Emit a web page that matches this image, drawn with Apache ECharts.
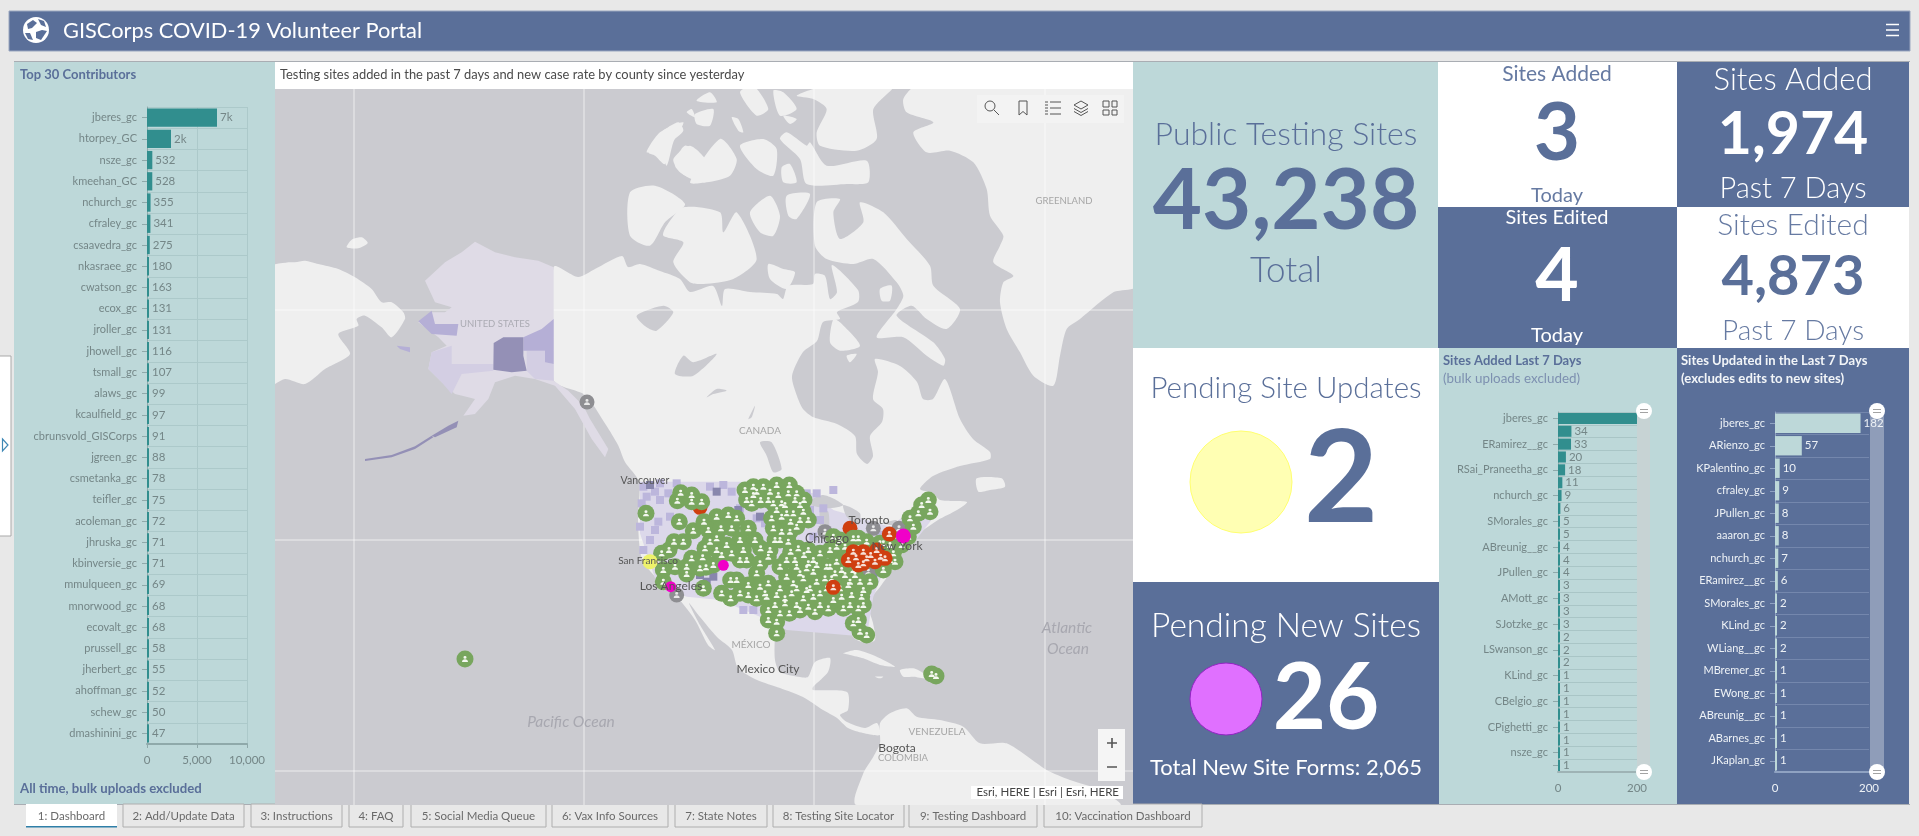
<!DOCTYPE html>
<html>
<head>
<meta charset="utf-8">
<title>GISCorps COVID-19 Volunteer Portal</title>
<script src="https://cdn.jsdelivr.net/npm/echarts@6/dist/echarts.min.js"></script>
<style>
  html, body { margin: 0; padding: 0; background: #e8e8e8; overflow: hidden; }
  #main { width: 1919px; height: 836px; }
</style>
</head>
<body>
<div id="main"></div>
<script>
// ---- chart data ----
var contributorNames = ['jberes_gc', 'htorpey_GC', 'nsze_gc', 'kmeehan_GC', 'nchurch_gc', 'cfraley_gc', 'csaavedra_gc', 'nkasraee_gc', 'cwatson_gc', 'ecox_gc', 'jroller_gc', 'jhowell_gc', 'tsmall_gc', 'alaws_gc', 'kcaulfield_gc', 'cbrunsvold_GISCorps', 'jgreen_gc', 'csmetanka_gc', 'teifler_gc', 'acoleman_gc', 'jhruska_gc', 'kbinversie_gc', 'mmulqueen_gc', 'mnorwood_gc', 'ecovalt_gc', 'prussell_gc', 'jherbert_gc', 'ahoffman_gc', 'schew_gc', 'dmashinini_gc'];
var contributorCounts = [7000, 2400, 532, 528, 355, 341, 275, 180, 163, 131, 131, 116, 107, 99, 97, 91, 88, 78, 75, 72, 71, 71, 69, 68, 68, 58, 55, 52, 50, 47];

// every other name on this axis is not printed in the picture
var addedNames = ['jberes_gc', '', 'ERamirez__gc', '', 'RSai_Praneetha_gc', '', 'nchurch_gc', '', 'SMorales_gc', '', 'ABreunig__gc', '', 'JPullen_gc', '', 'AMott_gc', '', 'SJotzke_gc', '', 'LSwanson_gc', '', 'KLind_gc', '', 'CBelgio_gc', '', 'CPighetti_gc', '', 'nsze_gc', ''];
var addedCounts = [1795, 34, 33, 20, 18, 11, 9, 6, 5, 5, 4, 4, 4, 3, 3, 3, 3, 2, 2, 2, 1, 1, 1, 1, 1, 1, 1, 1];

var updatedNames = ['jberes_gc', 'ARienzo_gc', 'KPalentino_gc', 'cfraley_gc', 'JPullen_gc', 'aaaron_gc', 'nchurch_gc', 'ERamirez__gc', 'SMorales_gc', 'KLind_gc', 'WLiang__gc', 'MBremer_gc', 'EWong_gc', 'ABreunig__gc', 'ABarnes_gc', 'JKaplan_gc'];
var updatedCounts = [182, 57, 10, 9, 8, 8, 7, 6, 2, 2, 2, 1, 1, 1, 1, 1];

var tabNames = ['1: Dashboard', '2: Add/Update Data', '3: Instructions', '4: FAQ', '5: Social Media Queue', '6: Vax Info Sources', '7: State Notes', '8: Testing Site Locator', '9: Testing Dashboard', '10: Vaccination Dashboard'];
var tabEdges = [[26, 117], [123, 244], [251, 342], [349, 403], [411, 546], [552, 668], [675, 767], [773, 904], [909, 1037], [1044, 1202]];

// map symbols, in map units (3 units = 1 screen pixel)
var greenSites = [
  [435,120],[460,110],[490,110],[530,105],[568,105],[440,150],[482,150],[510,125],[535,135],[565,130],[590,130],[612,150],[455,160],[520,160],[555,165],[600,165],[580,190],[515,205],[545,200],[600,210],[625,210],[572,215],[545,245],[590,230],
  [242,128],[232,152],[275,135],[275,155],[305,155],[138,190],
  [238,215],[280,242],[312,215],[350,200],[385,195],[410,205],[325,240],[363,235],[395,235],[445,235],[350,265],[420,270],[465,270],[380,285],[315,295],[482,295],[430,300],[505,320],[540,270],[222,275],[250,275],[185,310],[207,300],[308,322],[365,315],[420,330],[440,330],[340,345],[275,325],[318,352],[260,372],[190,360],[260,350],
  [540,350],[572,305],[595,295],[612,315],[650,345],[590,350],[640,365],[610,385],[580,400],[540,415],[505,400],[470,370],[445,405],[410,390],[392,390],[365,430],[392,445],[420,430],[445,435],[470,445],[495,430],[530,435],[575,430],[610,445],[640,440],[525,465],[505,480],[540,490],[505,510],[530,515],[568,490],[600,480],[645,485],[685,475],[730,475],[695,385],[735,375],[765,375],[720,415],[755,435],[725,440],[785,440],[810,395],[780,395],[775,475],[775,510],[760,520],[800,555],[780,545],[530,550],
  [710,290],[700,260],[735,290],[710,335],[775,265],[815,330],[850,360],[870,330],[815,305],[630,415],[680,415],[660,310],[690,350],[620,355],[560,380],[480,340],
  [985,150],[955,190],[990,185],[940,230],[905,285],[885,335],[870,285],[760,265],
  [310,415],[190,395],[-405,627],[1008,678],[995,672],
  [460,135],[505,150],[585,150],[470,125],[545,160],[530,180],[560,190],[610,185],[520,235],[570,245],[525,270],[565,275],
  [560,330],[585,330],[625,340],[600,370],[650,395],[675,385],[660,430],[700,450],[660,465],[625,470],[590,465],[555,460],[480,410],[500,440],[555,445],[620,420],[590,415],[705,370],[680,350],[745,405],[790,420],[750,465],[790,465],[750,395],
  [720,270],[690,300],[735,320],[725,360],[760,360],[640,330],[625,300],[510,300],[350,300],[395,310],[330,275],[300,355],[225,350],
  [880,310],[930,205],[965,165],[925,260],[840,280],[775,295],[800,275],[850,280]
];
var redSitesUnder = [[300,172],[750,235]];
var redSites = [[768,322],[790,340],[790,305],[812,315],[842,320],[868,252],[700,412],[760,305],[775,345],[830,300],[745,330],[855,325],[800,325],[825,335]];
var greySites = [[675,245],[820,235],[805,365],[230,435],[897,235],[-39,-144]];
var magentaSites = [[370,346],[212,410]];
var magentaLargeSites = [[910,258]];
var yellowSites = [[150,335]];
var lightCounties = [[130,110],[180,100],[230,100],[120,230],[150,270],[460,480],[430,480],[370,105],[420,175],[650,130],[700,120],[660,210],[630,180],[175,215],[210,200],[840,255],[530,350],[180,150],[140,140],[125,160],[165,125],[205,130],[330,110],[395,125],[620,130],[670,175],[130,300],[165,240],[495,220],[470,205],[640,260]];
var darkCounties = [[300,375],[340,380],[320,345],[480,200],[350,125],[820,370],[415,180],[320,395],[150,105]];

// KPI tiles
var publicSitesTotal = '43,238';
var sitesAddedToday = '3';
var sitesAdded7Days = '1,974';
var sitesEditedToday = '4';
var sitesEdited7Days = '4,873';
var pendingUpdates = '2';
var pendingNew = '26';
var totalForms = '2,065';

function shift(list, dx, dy) {
  return list.map(function (p) { return [p[0] + dx, p[1] + dy]; });
}
function fromPage(list) {
  return list.map(function (p) { return [(p[0] - 600) * 3, (p[1] - 450) * 3]; });
}
function crop9(list) { return shift(list, -975, -1083); }
function crop10(list) { return shift(list, 120, -1083); }
function crop11(list) { return shift(list, 300, 90); }

var northAmerica = fromPage([
  [553.7,267],[578,277],[595,269],[622,256],[628,267],[640,264],[660,271],[680,279],[690,292],[713,286],[722,306],[725,289],[750,292],[777,294],[783,299],[788,286],[813,284],[815,274],[825,276],[830,299],[837,292],[832,265],[858,290],[858,302],[837,312],[840,319],[823,322],[817,341],[803,352],[792,376],[797,396],[803,409],[813,417],[837,424],[855,436],[857,454],[867,464],[873,456],[870,436],[882,422],[883,409],[873,399],[878,372],[875,359],[900,366],[917,382],[923,399],[933,399],[945,379],[960,419],[973,439],[990,452],[990,459],[960,466],[933,476],[920,489],
  [933,493],[940,500],[967,502],[957,510],[938,520],[917,535],[908,545],[897,563],[880,587],[868,603],[873,623],[875,640],[865,643],[853,637],[845,613],[827,613],[810,617],[795,612],[778,623],[775,637],[775,660],[780,672],[800,677],[808,677],[815,662],[830,658],[828,672],[813,687],[813,690],[847,692],[848,710],[840,715],[847,722],[865,728],[877,723],[880,735],[863,733],[848,728],[837,718],[823,710],[803,697],[780,688],[757,680],[738,668],[732,650],[717,637],[700,617],[689,603],[700,625],[715,650],[708,645],[695,620],[678,598],[661,583],[642,559],[638,520],[639,482],[625,462],[618,445],[606,425],[585,395],[553.7,380]
]);
var landMasses = [northAmerica].concat([
  // Siberia and Wrangel
  crop9([[-30,540],[40,520],[60,520],[90,515],[130,525],[190,540],[240,565],[290,600],[320,640],[350,640],[385,670],[390,690],[350,745],[320,715],[270,680],[245,690],[250,710],[190,735],[225,795],[150,840],[90,885],[30,870],[-30,895]]),
  crop9([[215,475],[230,452],[260,445],[278,462],[250,478]]),
  // arctic islands
  crop9([[1120,190],[1160,130],[1210,100],[1225,125],[1190,160],[1170,225],[1140,200]]),
  crop9([[1200,230],[1230,170],[1290,210],[1290,260],[1250,270]]),
  crop9([[1235,70],[1250,60],[1260,85]]),
  crop10([[-30,310],[45,290],[135,345],[75,400],[30,470],[-30,440]]),
  crop10([[80,410],[130,355],[240,370],[250,430],[290,370],[350,510],[280,570],[190,585],[150,580],[100,520],[130,460],[70,440]]),
  crop10([[20,190],[60,130],[130,100],[100,160],[80,230],[60,180]]),
  crop10([[100,210],[150,170],[200,220],[155,265],[120,250]]),
  crop10([[150,280],[240,150],[290,210],[270,260],[200,280]]),
  crop10([[300,170],[370,150],[410,180],[400,260],[350,240]]),
  crop10([[165,75],[220,60],[210,110],[170,105]]),
  crop10([[170,35],[210,10],[230,40]]),
  crop10([[300,10],[340,-10],[385,60],[350,80]]),
  crop10([[400,5],[430,10],[470,60],[420,80]]),
  crop10([[430,80],[470,90],[450,105]]),
  crop10([[275,85],[295,90],[310,130],[295,125]]),
  crop10([[420,150],[440,130],[500,170],[510,160],[560,230],[680,215],[685,280],[620,285],[500,285],[480,210]]),
  crop10([[470,20],[560,-10],[760,-10],[700,60],[710,150],[650,185],[540,170],[530,130],[560,60],[520,30]]),
  crop10([[440,320],[510,315],[470,390],[445,380]]),
  crop10([[330,370],[390,320],[420,380],[400,440],[360,430]]),
  crop10([[425,235],[450,225],[470,280],[430,280]]),
  crop10([[385,525],[430,540],[465,550],[440,600],[390,570]]),
  crop10([[530,340],[600,330],[580,370],[600,450],[670,400],[660,340],[730,370],[800,450],[870,530],[880,590],[960,660],[920,720],[860,690],[815,650],[770,680],[880,760],[915,810],[910,830],[860,800],[790,745],[710,745],[770,660],[790,620],[770,580],[700,510],[640,525],[560,510],[525,470]]),
  crop10([[580,690],[600,700],[660,770],[600,785],[570,760]]),
  crop10([[620,800],[650,795],[630,820]]),
  crop10([[720,600],[755,590],[750,635],[725,635]]),
  // Greenland
  crop10([[790,30],[830,-10],[1490,-10],[1490,590],[1420,610],[1320,690],[1280,720],[1260,800],[1240,890],[1180,860],[1140,790],[1100,720],[1080,640],[1090,580],[1120,560],[1060,520],[1080,470],[1090,440],[1050,380],[1040,300],[1000,220],[930,185],[860,190],[820,130],[880,100],[800,70]]),
  // Caribbean, South America, Newfoundland
  crop11([[430,520],[470,510],[530,530],[585,560],[540,555],[490,535],[450,525]]),
  crop11([[600,570],[640,565],[670,580],[680,595],[640,590],[610,590]]),
  crop11([[525,590],[550,590],[540,595]]),
  crop11([[540,730],[570,700],[620,685],[650,710],[720,720],[790,740],[840,790],[920,790],[1040,870],[1110,900],[1200,930],[1260,975],[470,975],[490,880],[520,830],[540,790]]),
  crop11([[830,-5],[905,-5],[915,20],[870,30],[835,35]])
]);
var lakes = [
  crop10([[-10,680],[70,650],[100,670],[50,725],[20,715]]),
  crop10([[105,855],[130,800],[160,820],[230,795],[160,860]]),
  crop10([[200,925],[230,900],[260,905],[220,915]]),
  crop10([[325,990],[345,950],[335,985]]),
  crop10([[360,1060],[395,1060],[425,1140],[400,1150],[380,1100]])
];
var greatLakes = [
  crop11([[320,70],[370,45],[430,75],[380,85]]),
  crop11([[360,90],[385,95],[385,165],[365,165]]),
  crop11([[430,75],[480,100],[475,135],[440,110]]),
  crop11([[545,130],[590,120],[580,135]])
];
var alaskaOutline = [crop9([[600,458],[660,490],[720,505],[790,515],[836,535],[836,875],[880,905],[925,950],[945,990],[1000,1080],[990,1105],[950,1050],[900,960],[840,890],[780,870],[720,860],[660,880],[640,930],[600,975],[565,980],[600,930],[580,925],[540,915],[500,880],[460,840],[470,790],[515,770],[490,745],[430,700],[470,670],[510,670],[530,655],[480,640],[450,575],[510,520],[560,490]])];
var alaskaLight = [
  crop9([[470,790],[530,770],[530,825],[655,825],[655,845],[560,855],[530,915],[500,880],[460,840]]),
  crop9([[755,785],[810,785],[810,820],[836,825],[836,875],[780,870],[755,845]])
];
var alaskaMedium = [
  crop9([[745,745],[800,720],[836,690],[836,825],[810,820],[810,785],[745,785]]),
  crop9([[430,697],[470,665],[480,705],[550,705],[545,740],[470,735]]),
  crop9([[365,770],[405,775],[405,790],[375,780]])
];
var alaskaDark = [
  crop9([[656,762],[685,745],[745,745],[745,800],[755,845],[710,850],[655,842]]),
  crop9([[470,1040],[520,1010],[550,995],[545,1015],[480,1045]]),
  crop9([[270,1110],[350,1098],[420,1072],[470,1040],[475,1045],[420,1080],[350,1105],[270,1116]])
];
var lower48 = [[120,95],[420,95],[640,130],[700,180],[870,230],[1000,130],[1010,190],[940,280],[860,340],[820,440],[800,560],[560,540],[480,500],[360,450],[260,440],[170,400],[120,250]];
var graticule = [
  fromPage([[354,89],[354,805]]), fromPage([[584,89],[584,805]]), fromPage([[814,89],[814,805]]), fromPage([[1045,89],[1045,805]]),
  fromPage([[275,310],[1133,310]]), fromPage([[275,540],[1133,540]]), fromPage([[275,771],[1133,771]])
];

// ---- colours ----
var navy = '#5a6f99';
var teal = '#bdd8d9';
var barTeal = '#318e8e';
var tickGrey = '#748687';
var softNavy = '#667aa2';
var fontName = 'Lato, "Open Sans", sans-serif';
var personIcon = 'path://M12 2a4.6 4.6 0 1 1 0 9.2a4.6 4.6 0 1 1 0-9.2zM3 22c0-6 4-9 9-9s9 3 9 9z';

// ---- page furniture ----
var els = [];
var shapeCount = 0;
// the graphic component has no plain path type, so each icon path is registered as a shape
function iconShape(d) {
  var name = 'icon' + (shapeCount++);
  echarts.graphic.registerShape(name, echarts.graphic.extendPath(d, {}));
  return name;
}
function box(x, y, w, h, fill, stroke, z) {
  els.push({ type: 'rect', silent: true, z: z === undefined ? -1 : z, shape: { x: x, y: y, width: w, height: h }, style: { fill: fill, stroke: stroke || null, lineWidth: 1 } });
}
function txt(x, y, s, size, color, weight, align, italic) {
  els.push({ type: 'text', silent: true, z: 100, x: x, y: y, style: { text: s, fill: color, font: (italic ? 'italic ' : '') + (weight || 400) + ' ' + size + 'px ' + fontName, textAlign: align || 'center', textVerticalAlign: 'middle' } });
}
function dot(x, y, r, fill, stroke, z) {
  els.push({ type: 'circle', silent: true, z: z === undefined ? 100 : z, shape: { cx: x, cy: y, r: r }, style: { fill: fill, stroke: stroke || null, lineWidth: 1 } });
}
function stroke(d, color, w, z) {
  els.push({ type: iconShape(d), silent: true, z: z || 100, style: { fill: null, stroke: color, lineWidth: w || 1 } });
}
function solid(d, color) {
  els.push({ type: iconShape(d), silent: true, z: 100, style: { fill: color, stroke: null } });
}

// header
box(9, 11, 1901, 40, navy, '#9aa7bf');
dot(36, 30, 13, '#ffffff', null);
solid('M27 24 L33 20 L37 23 L32 28 L28 29 Z', navy);
solid('M38 19 L44 21 L46 27 L41 25 Z', navy);
solid('M36 32 L42 30 L47 31 L41 40 L36 38 Z', navy);
solid('M25 33 L30 33 L33 40 L28 39 Z', navy);
txt(63, 31, 'GISCorps COVID-19 Volunteer Portal', 21.8, '#ffffff', 400, 'left');
stroke('M1886 24.5 H1899 M1886 30 H1899 M1886 35.5 H1899', '#ffffff', 1.6);

// side collapse tab
box(-1, 356, 12, 180, '#ffffff', '#a9a9a9');
stroke('M2.5 439 L8 445 L2.5 451 Z', '#3f88b5', 1.2);

// panels
box(14, 61, 1896, 1, '#a9adb3');
box(14, 62, 261, 742, teal);
box(275, 62, 858, 27, '#ffffff');
box(1133, 62, 305, 286, teal);
box(1438, 62, 239, 145, '#ffffff');
box(1677, 62, 232, 145, navy);
box(1438, 207, 239, 141, navy);
box(1677, 207, 232, 141, '#ffffff');
box(1133, 348, 306, 234, '#ffffff');
box(1133, 582, 306, 222, navy);
box(1439, 348, 238, 456, teal);
box(1677, 348, 232, 456, navy);
box(14, 804, 1896, 1, '#a9adb3');

// tabs
tabNames.forEach(function (name, i) {
  var e = tabEdges[i];
  var active = i === 0;
  box(e[0], 804, e[1] - e[0], 23, active ? '#ffffff' : '#e8e8e8', active ? null : '#aeaeae');
  txt((e[0] + e[1]) / 2, 816, name, 11.5, '#6a6a6a');
  if (active) box(e[0], 826, e[1] - e[0], 1.5, '#2f7fa8');
});

// panel titles
txt(20, 75, 'Top 30 Contributors', 13, navy, 700, 'left');
txt(20, 789, 'All time, bulk uploads excluded', 13.2, navy, 700, 'left');
txt(280, 75, 'Testing sites added in the past 7 days and new case rate by county since yesterday', 12.9, '#4a4a4a', 400, 'left');
txt(1443, 361, 'Sites Added Last 7 Days', 13, navy, 700, 'left');
txt(1443, 379, '(bulk uploads excluded)', 13.4, '#7d90b0', 400, 'left');
txt(1681, 361, 'Sites Updated in the Last 7 Days', 13, '#f2f5f8', 700, 'left');
txt(1681, 379, '(excludes edits to new sites)', 13.2, '#f2f5f8', 700, 'left');

// KPI tiles
txt(1286, 135, 'Public Testing Sites', 32, navy, 300);
txt(1286, 202, publicSitesTotal, 85, navy, 700);
txt(1286, 271, 'Total', 35, navy, 300);

txt(1557, 74, 'Sites Added', 21, softNavy, 400);
txt(1557, 134, sitesAddedToday, 80, navy, 700);
txt(1557, 196, 'Today', 20, softNavy, 400);

txt(1793, 80, 'Sites Added', 31, '#ffffff', 300);
txt(1793, 135, sitesAdded7Days, 59, '#ffffff', 700);
txt(1793, 189, 'Past 7 Days', 29, '#ffffff', 300);

txt(1557, 218, 'Sites Edited', 20, '#ffffff', 400);
txt(1557, 277, sitesEditedToday, 75, '#ffffff', 700);
txt(1557, 336, 'Today', 20, '#ffffff', 400);

txt(1793, 225, 'Sites Edited', 30, softNavy, 300);
txt(1793, 277, sitesEdited7Days, 56, navy, 700);
txt(1793, 331, 'Past 7 Days', 28, softNavy, 300);

txt(1286, 388, 'Pending Site Updates', 29.5, navy, 300);
dot(1241, 482, 51, '#ffffb3', '#ffff70');
txt(1341, 481, pendingUpdates, 128, navy, 700);

txt(1286, 626, 'Pending New Sites', 33.5, '#ffffff', 300);
dot(1226, 699, 36, '#e070ff', '#9424c4');
txt(1326, 699, pendingNew, 92, '#ffffff', 700);
txt(1286, 768, 'Total New Site Forms: ' + totalForms, 22, '#ffffff', 400);

// scrollbars next to the two small bar charts
function scrollbar(x, w, cx, fill) {
  box(x, 412, w, 360, fill, null, -0.5);
  [411, 772].forEach(function (y) {
    dot(cx, y, 8, '#ffffff', null);
    stroke('M' + (cx - 4) + ' ' + (y - 1.5) + ' H' + (cx + 4) + ' M' + (cx - 4) + ' ' + (y + 1.5) + ' H' + (cx + 4), '#a3a3a3', 1, 101);
  });
}
scrollbar(1637, 13, 1644, '#c7d3d4');
scrollbar(1870, 14, 1877, '#8f9db9');

// map text
txt(495, 324, 'UNITED STATES', 9.5, '#ababb3');
txt(760, 431, 'CANADA', 10, '#a6a6a6');
txt(1064, 201, 'GREENLAND', 9.5, '#a6a6a6');
txt(751, 645, 'MÉXICO', 10, '#a6a6a6');
txt(768, 669, 'Mexico City', 12, '#555555');
txt(937, 732, 'VENEZUELA', 10, '#a6a6a6');
txt(897, 748, 'Bogota', 12, '#555555');
txt(903, 758, 'COLOMBIA', 9.5, '#a6a6a6');
txt(1067, 628, 'Atlantic', 15.5, '#a8a8b0', 400, 'center', true);
txt(1068, 649, 'Ocean', 15.5, '#a8a8b0', 400, 'center', true);
txt(571, 722, 'Pacific Ocean', 15.5, '#a8a8b0', 400, 'center', true);
txt(645, 481, 'Vancouver', 10.5, '#555555');
txt(648, 561, 'San Francisco', 10, '#555555');
txt(671, 586, 'Los Angeles', 12, '#555555');
txt(827, 539, 'Chicago', 12.5, '#555555');
txt(869, 520, 'Toronto', 12, '#555555');
txt(897, 546, 'New York', 12, '#555555');

// map toolbar
box(977, 95, 147, 28, '#f3f3f3', null, 100);
[
  'M995 106 A5 5 0 1 1 985 106 A5 5 0 1 1 995 106 Z M994 110 L999 115',
  'M1019 101 H1027 V115 L1023 111.5 L1019 115 Z',
  'M1050 102 H1061 M1050 108 H1061 M1050 114 H1061 M1045 102 H1048 M1045 105 H1048 M1045 108 H1048 M1045 111 H1048 M1045 114 H1048',
  'M1081 101 L1088 105 L1081 109 L1074 105 Z M1074 108.5 L1081 112.5 L1088 108.5 M1074 111.5 L1081 115.5 L1088 111.5',
  'M1103 101 H1109 V107 H1103 Z M1112 101 H1117 V107 H1112 Z M1103 110 H1109 V115 H1103 Z M1112 110 H1117 V115 H1112 Z'
].forEach(function (d) {
  stroke(d, '#555555', 1, 101);
});

// zoom buttons and attribution
box(1098, 729, 27, 52, '#f5f5f5', null, 100);
stroke('M1107 743 H1117 M1112 738 V748 M1107 767 H1117', '#555555', 1.6, 101);
box(971, 786, 152, 13, '#ffffff', null, 100);
els.push({ type: 'text', silent: true, z: 101, x: 1119, y: 792.5, style: { text: 'Esri, HERE | Esri | Esri, HERE', fill: '#444444', font: '11.5px ' + fontName, textAlign: 'right', textVerticalAlign: 'middle' } });

// ---- series helpers ----
function areaSeries(name, polys, color, smooth) {
  return {
    name: name, type: 'custom', coordinateSystem: 'cartesian2d', xAxisIndex: 3, yAxisIndex: 3, clip: true, silent: true,
    data: polys.map(function (p, i) { return [i, 0]; }),
    renderItem: function (params, api) {
      return {
        type: 'polygon',
        shape: { points: polys[params.dataIndex].map(function (p) { return api.coord(p); }), smooth: smooth || 0 },
        style: { fill: color, stroke: null }
      };
    }
  };
}
function lineSeries(name, lines, color) {
  return {
    name: name, type: 'custom', coordinateSystem: 'cartesian2d', xAxisIndex: 3, yAxisIndex: 3, clip: true, silent: true,
    data: lines.map(function (p, i) { return [i, 0]; }),
    renderItem: function (params, api) {
      return {
        type: 'polyline',
        shape: { points: lines[params.dataIndex].map(function (p) { return api.coord(p); }) },
        style: { fill: null, stroke: color, lineWidth: 1 }
      };
    }
  };
}
function pointSeries(name, pts, symbol, size, color) {
  return {
    name: name, type: 'scatter', xAxisIndex: 3, yAxisIndex: 3, silent: true, clip: true,
    symbol: symbol, symbolSize: size, data: pts,
    itemStyle: { color: color, opacity: 1 }
  };
}
function barSeries(grid, values, color, labelColor, labelFn) {
  return {
    type: 'bar', xAxisIndex: grid, yAxisIndex: grid, data: values, silent: true,
    barCategoryGap: '14%', barMinHeight: 2, clip: true,
    itemStyle: { color: color },
    label: { show: true, position: 'right', distance: 3, color: labelColor, fontFamily: fontName, fontSize: 11.5, formatter: labelFn }
  };
}
function valueAxis(grid, maxV, step, labelColor, lineColor) {
  return {
    type: 'value', gridIndex: grid, min: 0, max: maxV, interval: step,
    axisLine: { show: true, lineStyle: { color: lineColor, width: 2 } },
    axisTick: { show: grid === 0, length: 4, lineStyle: { color: lineColor } },
    splitLine: { show: grid === 0, lineStyle: { color: '#acc9ca', width: 1 } },
    axisLabel: { color: labelColor, fontFamily: fontName, fontSize: 11.5, margin: 10 }
  };
}
function nameAxis(grid, names, labelColor, lineColor, splitColor, tickEvery) {
  return {
    type: 'category', gridIndex: grid, data: names, inverse: true,
    axisLine: { show: true, lineStyle: { color: lineColor } },
    axisTick: { show: true, alignWithLabel: true, length: 5, interval: tickEvery, lineStyle: { color: lineColor } },
    splitLine: { show: true, interval: 0, lineStyle: { color: splitColor, width: 1 } },
    axisLabel: { interval: 0, color: labelColor, fontFamily: fontName, fontSize: 11, margin: 10 }
  };
}

// ---- option ----
var option = {
  animation: false,
  backgroundColor: '#e8e8e8',
  graphic: { elements: els },
  grid: [
    { left: 147, top: 107, width: 100, height: 637 },
    { left: 1558, top: 412, width: 79, height: 360 },
    { left: 1775, top: 412, width: 94, height: 360 },
    { left: 275, top: 89, width: 858, height: 716 }
  ],
  xAxis: [
    valueAxis(0, 10000, 5000, tickGrey, '#8fa9aa'),
    valueAxis(1, 200, 200, tickGrey, '#9eb3b5'),
    valueAxis(2, 200, 200, '#eef2f6', '#8fa2c2'),
    { type: 'value', gridIndex: 3, min: -975, max: 1599, show: false }
  ],
  yAxis: [
    nameAxis(0, contributorNames, tickGrey, '#8fa9aa', '#acc9ca', 0),
    nameAxis(1, addedNames, tickGrey, '#8fa9aa', '#a9c5c6', 1),
    nameAxis(2, updatedNames, '#eef2f6', '#8fa2c2', '#7487ad', 0),
    { type: 'value', gridIndex: 3, min: -1083, max: 1065, inverse: true, show: false }
  ],
  series: [
    barSeries(0, contributorCounts, barTeal, tickGrey, function (p) {
      return p.value >= 1000 ? Math.round(p.value / 1000) + 'k' : p.value;
    }),
    barSeries(1, addedCounts, barTeal, tickGrey, function (p) {
      return p.value > 200 ? '' : p.value;   // bar runs off the zoomed axis
    }),
    barSeries(2, updatedCounts, teal, '#eef2f6', function (p) { return p.value; }),

    // basemap: first a full-size ocean rectangle
    areaSeries('ocean', [[[-975,-1083],[1599,-1083],[1599,1065],[-975,1065]]], '#cbcbd0'),
    areaSeries('land', landMasses, '#efefef', 0.25),
    areaSeries('lakes', lakes, '#cbcbd0', 0.25),
    lineSeries('graticule', graticule, 'rgba(255,255,255,0.65)'),
    areaSeries('alaska', alaskaOutline, '#dfdbe6'),
    areaSeries('alaskaLight', alaskaLight, '#d3cee3'),
    areaSeries('alaskaMedium', alaskaMedium, '#b5afd6'),
    areaSeries('alaskaDark', alaskaDark, '#9490b6'),
    areaSeries('lower48', [lower48], '#dcd8ea'),
    areaSeries('greatLakes', greatLakes, '#cbcbd0', 0.25),
    pointSeries('countiesLight', lightCounties, 'rect', 8, '#bcb6dc'),
    pointSeries('countiesDark', darkCounties, 'rect', 8, '#8886ad'),

    pointSeries('greySites', greySites, 'circle', 15, '#8e8e92'),
    pointSeries('greyIcons', greySites, personIcon, 6, '#e8e8e8'),
    pointSeries('redUnder', redSitesUnder, 'circle', 15, '#cf3f10'),
    pointSeries('greenSites', greenSites, 'circle', 17, '#78a65e'),
    pointSeries('greenIcons', greenSites, personIcon, 6, '#f4f8f0'),
    pointSeries('redSites', redSites, 'circle', 15, '#cf3f10'),
    pointSeries('redIcons', redSites, personIcon, 6, '#f6e0d6'),
    pointSeries('yellowSites', yellowSites, 'circle', 15, '#eef26a'),
    pointSeries('magentaSites', magentaSites, 'circle', 11, '#f000c8'),
    pointSeries('magentaLarge', magentaLargeSites, 'circle', 15, '#f000c8')
  ]
};

var chart = echarts.init(document.getElementById('main'));
chart.setOption(option);
</script>
</body>
</html>
